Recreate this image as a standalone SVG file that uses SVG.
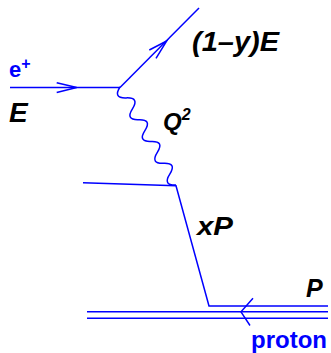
<svg xmlns="http://www.w3.org/2000/svg" width="331" height="353" viewBox="0 0 331 353">
<style>
.ln{fill:none;stroke:#0000ff;stroke-width:1.5;stroke-linejoin:miter}
.lbl{font-family:"Liberation Sans",Arial,sans-serif;font-weight:bold;font-style:italic;fill:#000}
.blbl{font-family:"Liberation Sans",Arial,sans-serif;font-weight:bold;fill:#0000ff}
</style>
<rect width="331" height="353" fill="#fff"/>
<g id="connectors">
  <path id="e-in" class="ln" d="M10,87.5 H120"/>
  <polyline class="ln" points="56.7,82.7 76.7,87.5 56.7,92.5"/>
  <path id="e-out" class="ln" d="M120,87.5 L199,8"/>
  <polyline class="ln" points="149.3,50 166.7,41 156,58.3"/>
  <path id="photon" class="ln" d="M120,87 Q112.69,98.40 126.22,97.89 T132.44,108.78 T138.67,119.67 T144.89,130.56 T151.11,141.44 T157.33,152.33 T163.56,163.22 T169.78,174.11 T176,185"/>
  <path id="quark" class="ln" d="M83,182.7 L176,185.7 L209,306 H328"/>
  <path id="proton1" class="ln" d="M87,311.8 H328"/>
  <path id="proton2" class="ln" d="M87,318.3 H328"/>
  <polyline class="ln" points="253,298.3 241,311.8 250,325.5"/>
</g>
<g id="labels">
  <text class="blbl" x="9" y="77" font-size="22">e<tspan font-size="16" dy="-8">+</tspan></text>
  <text class="lbl" x="9" y="121.7" font-size="28">E</text>
  <text class="lbl" x="192" y="51" font-size="28" textLength="87" lengthAdjust="spacingAndGlyphs">(1–y)E</text>
  <text class="lbl" x="163" y="130" font-size="24">Q<tspan font-size="16" dy="-10">2</tspan></text>
  <text class="lbl" x="197" y="235" font-size="25" textLength="36" lengthAdjust="spacingAndGlyphs">xP</text>
  <text class="lbl" x="306" y="297" font-size="25">P</text>
  <text class="blbl" x="251" y="348" font-size="24">proton</text>
</g>
</svg>
